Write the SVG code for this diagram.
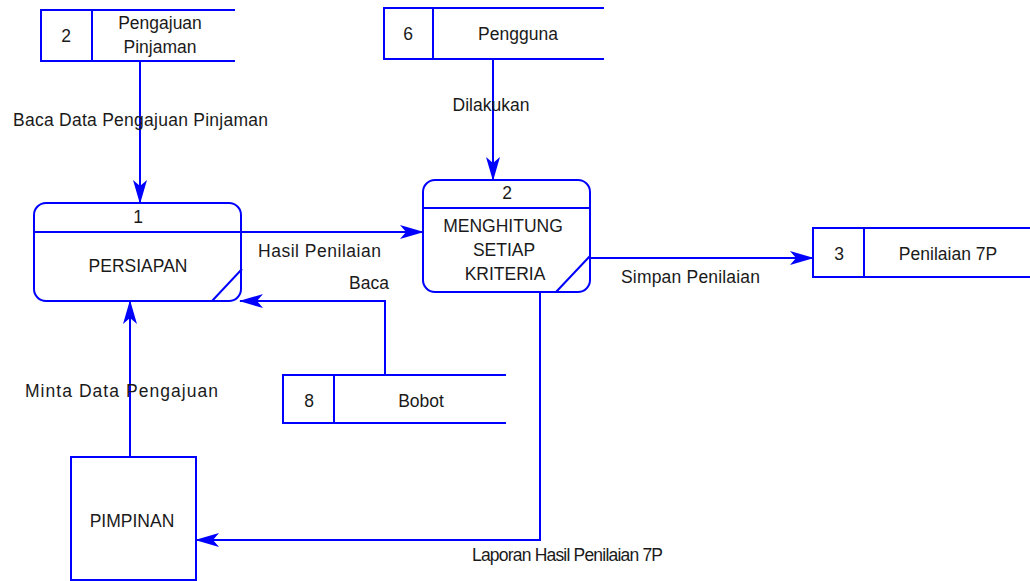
<svg xmlns="http://www.w3.org/2000/svg" width="1030" height="581" viewBox="0 0 1030 581">
<style>
.ln{fill:none;stroke:#0000FF;stroke-width:2}
.bx{fill:#FFFFFF;stroke:#0000FF;stroke-width:2}
.t{font-family:"Liberation Sans",Arial,sans-serif;font-size:17.5px;fill:#1a1a1a}
.c{text-anchor:middle}
</style>
<defs>
<marker id="ah" viewBox="0 0 24 14" refX="23" refY="7" markerWidth="24" markerHeight="14" markerUnits="userSpaceOnUse" orient="auto">
<path d="M0,0 L24,7 L0,14 L6,7 Z" fill="#0000FF"/>
</marker>
</defs>
<rect width="1030" height="581" fill="#FFFFFF"/>

<g id="connectors">
<path class="ln" d="M140,61 L140,203" marker-end="url(#ah)"/>
<path class="ln" d="M493,59 L493,180" marker-end="url(#ah)"/>
<path class="ln" d="M241,232 L423,232" marker-end="url(#ah)"/>
<path class="ln" d="M590,258 L813,258" marker-end="url(#ah)"/>
<path class="ln" d="M385,375 L385,301 L240,301" marker-end="url(#ah)"/>
<path class="ln" d="M130,457 L130,301" marker-end="url(#ah)"/>
<path class="ln" d="M540,292 L540,540 L196,540" marker-end="url(#ah)"/>
<text class="t" x="13" y="126" textLength="255" lengthAdjust="spacing">Baca Data Pengajuan Pinjaman</text>
<text class="t c" x="491" y="111">Dilakukan</text>
<text class="t" x="258" y="257" textLength="123" lengthAdjust="spacing">Hasil Penilaian</text>
<text class="t" x="349" y="289">Baca</text>
<text class="t" x="621" y="283" textLength="139" lengthAdjust="spacing">Simpan Penilaian</text>
<text class="t" x="25" y="397" textLength="193" lengthAdjust="spacing">Minta Data Pengajuan</text>
<text class="t" x="472" y="561" textLength="191" lengthAdjust="spacing">Laporan Hasil Penilaian 7P</text>
</g>

<g id="store-2">
<path class="ln" d="M235,10 L41,10 L41,61 L235,61 M92,10 L92,61"/>
<text class="t c" x="66" y="42">2</text>
<text class="t c" x="160" y="29">Pengajuan</text>
<text class="t c" x="160" y="53">Pinjaman</text>
</g>

<g id="store-6">
<path class="ln" d="M604,8 L384,8 L384,59 L604,59 M433,8 L433,59"/>
<text class="t c" x="408" y="40">6</text>
<text class="t c" x="518" y="40">Pengguna</text>
</g>

<g id="store-3">
<path class="ln" d="M1030,228 L813,228 L813,277 L1030,277 M864,228 L864,277"/>
<text class="t c" x="839" y="260">3</text>
<text class="t c" x="948" y="260">Penilaian 7P</text>
</g>

<g id="store-8">
<path class="ln" d="M506,375 L283,375 L283,423 L506,423 M334,375 L334,423"/>
<text class="t c" x="309" y="407">8</text>
<text class="t c" x="421" y="407">Bobot</text>
</g>

<g id="process-1">
<rect class="bx" x="34" y="203" width="207" height="98" rx="12" ry="12"/>
<path class="ln" d="M34,232 L241,232 M212,301 L242,269"/>
<text class="t c" x="138" y="223">1</text>
<text class="t c" x="138" y="272">PERSIAPAN</text>
</g>

<g id="process-2">
<rect class="bx" x="423" y="180" width="167" height="112" rx="12" ry="12"/>
<path class="ln" d="M423,208 L590,208 M556,292 L590,256"/>
<text class="t c" x="507" y="199">2</text>
<text class="t c" x="503" y="232">MENGHITUNG</text>
<text class="t c" x="504" y="256">SETIAP</text>
<text class="t c" x="505" y="280">KRITERIA</text>
</g>

<g id="pimpinan">
<rect class="bx" x="71" y="457" width="125" height="123"/>
<text class="t c" x="132" y="527">PIMPINAN</text>
</g>
</svg>
